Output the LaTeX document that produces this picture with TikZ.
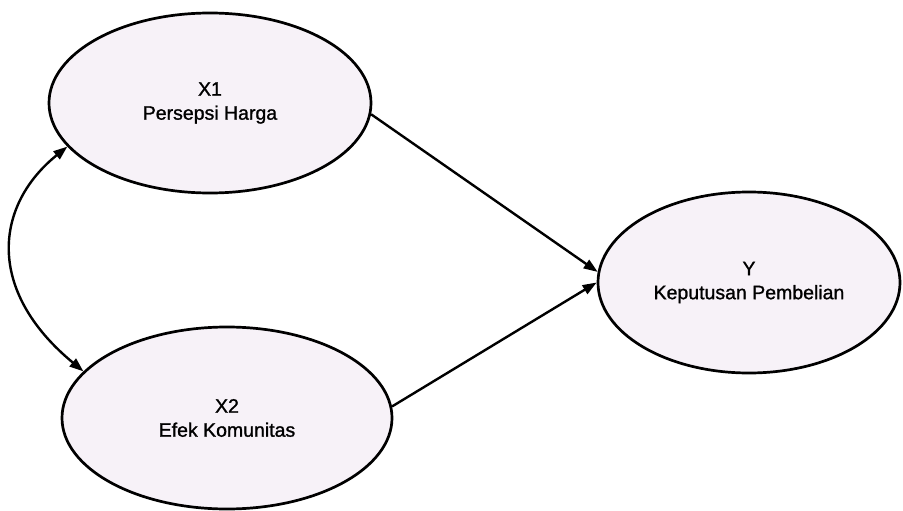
\documentclass[tikz,border=0pt]{standalone}
\usepackage{fontspec}
\setmainfont{Liberation Sans}
\newfontfamily\labelfont{Liberation Sans}[FakeBold=1.2]
\usetikzlibrary{arrows.meta,shapes.geometric}
\definecolor{latentfill}{RGB}{247,242,248}
\begin{document}
\begin{tikzpicture}[x=1pt,y=-1pt,
  latent/.style={ellipse, draw=black, line width=2.7pt, fill=latentfill,
    inner sep=0pt, align=center,
    font=\labelfont\fontsize{19.5}{24}\selectfont},
  path/.style={line width=2.4pt, -{Triangle[length=14pt,width=10pt]}},
  covar/.style={line width=2.4pt, {Triangle[length=14pt,width=10pt]}-{Triangle[length=14pt,width=10pt]}}]
  \useasboundingbox (0,0) rectangle (903,511);
  % latent variables
  \node[latent, minimum width=322pt, minimum height=180pt] (X1) at (210,103) {X1\\Persepsi Harga};
  \node[latent, minimum width=330pt, minimum height=182pt] (X2) at (227,418) {X2\\Efek Komunitas};
  \node[latent, minimum width=302pt, minimum height=181pt] (Y) at (749,282.5) {Y\\Keputusan Pembelian};
  % structural paths
  \draw[path] (X1.-4.3) -- (Y.176.4);
  \draw[path] (X2.4.5) -- (Y.180);
  % correlation between exogenous variables
  \draw[covar] (X1.197) .. controls (-5,205) and (-15,290) .. (X2.162);
\end{tikzpicture}
\end{document}
